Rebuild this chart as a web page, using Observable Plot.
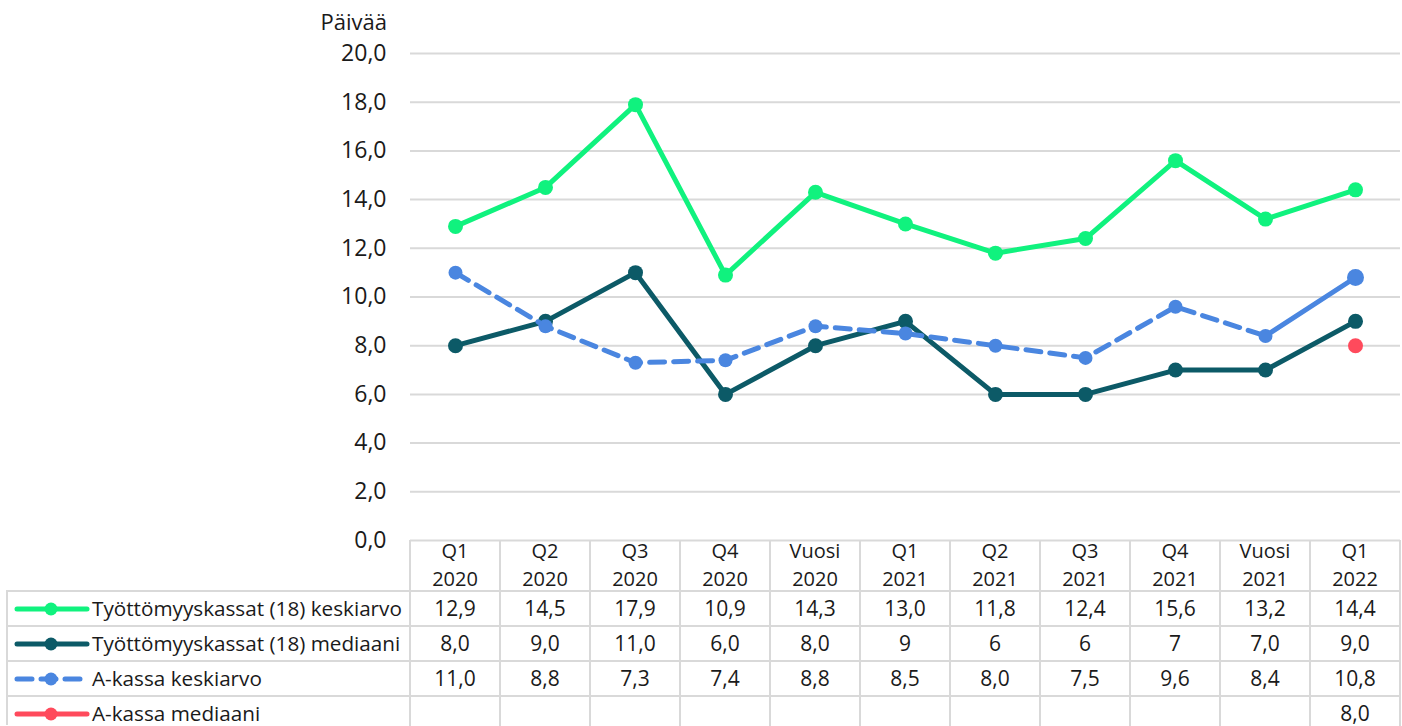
<!DOCTYPE html>
<html><head><meta charset="utf-8">
<script src="https://cdn.jsdelivr.net/npm/d3@7"></script>
<script src="https://cdn.jsdelivr.net/npm/@observablehq/plot@0.6"></script>
<style>
body{margin:0;background:#fff;font-family:"Open Sans","Noto Sans",sans-serif;color:#1a1a1a;}
#wrap{position:relative;width:1402px;height:726px;overflow:hidden;}
.vl{position:absolute;width:2px;background:#d9d9d9;}
.hl{position:absolute;height:2px;background:#d9d9d9;}
.cell{position:absolute;text-align:center;font-size:21px;line-height:24px;height:24px;}
.hcell{position:absolute;text-align:center;font-size:20px;line-height:24px;height:24px;}
.lab{position:absolute;font-size:20.7px;line-height:24px;white-space:nowrap;}
</style></head>
<body><div id="wrap"></div>
<script>
const quarters = ["Q1","Q2","Q3","Q4","Vuosi","Q1","Q2","Q3","Q4","Vuosi","Q1"];
const years = ["2020","2020","2020","2020","2020","2021","2021","2021","2021","2021","2022"];
const seriesNames = ["Työttömyyskassat (18) keskiarvo","Työttömyyskassat (18) mediaani","A-kassa keskiarvo","A-kassa mediaani"];
const seriesColors = ["#10f27e","#0c5a67","#4a86e0","#ff4a5c"];
const kassatKeskiarvo = [12.9,14.5,17.9,10.9,14.3,13.0,11.8,12.4,15.6,13.2,14.4];
const kassatMediaani = [8.0,9.0,11.0,6.0,8.0,9,6,6,7,7.0,9.0];
const aKassaKeskiarvo = [11.0,8.8,7.3,7.4,8.8,8.5,8.0,7.5,9.6,8.4,10.8];
const aKassaMediaani = [null,null,null,null,null,null,null,null,null,null,8.0];
// table text as displayed
const tableText = [
  ["12,9","14,5","17,9","10,9","14,3","13,0","11,8","12,4","15,6","13,2","14,4"],
  ["8,0","9,0","11,0","6,0","8,0","9","6","6","7","7,0","9,0"],
  ["11,0","8,8","7,3","7,4","8,8","8,5","8,0","7,5","9,6","8,4","10,8"],
  ["","","","","","","","","","","8,0"]
];
const yTicks = [0,2,4,6,8,10,12,14,16,18,20];

const cats = quarters.map((q,i)=>q+" "+years[i]);
const allSeries = [kassatKeskiarvo,kassatMediaani,aKassaKeskiarvo,aKassaMediaani];
const rows = [];
allSeries.forEach((arr,s)=>arr.forEach((v,i)=>{ if(v!=null) rows.push({s, cat:cats[i], i, v}); }));
const sel = s => rows.filter(d=>d.s===s);
const fmt = v => d3.format(".1f")(v).replace(".",",");

const chart = Plot.plot({
  width:1402, height:726,
  marginLeft:410, marginRight:2, marginTop:53, marginBottom:186,
  style:{fontFamily:"'Open Sans', 'Noto Sans', sans-serif", fontSize:"21px", color:"#1a1a1a", background:"transparent"},
  x:{type:"band", domain:cats, padding:0, axis:null},
  y:{domain:[0,20], ticks:yTicks, tickFormat:fmt, tickSize:0, tickPadding:24, label:null},
  marks:[
    Plot.gridY(yTicks,{stroke:"#d9d9d9", strokeOpacity:1, strokeWidth:2}),
    Plot.axisY(yTicks,{tickSize:0, tickPadding:24, tickFormat:fmt, fontSize:23, label:null}),
    Plot.text(["Päivää"],{frameAnchor:"top-left", lineAnchor:"middle", dx:-90, dy:-31, textAnchor:"start", fontSize:22}),
    Plot.line(sel(0),{x:"cat", y:"v", stroke:seriesColors[0], strokeWidth:5}),
    Plot.dot(sel(0),{x:"cat", y:"v", fill:seriesColors[0], r:7.5}),
    Plot.line(sel(1),{x:"cat", y:"v", stroke:seriesColors[1], strokeWidth:5}),
    Plot.dot(sel(1),{x:"cat", y:"v", fill:seriesColors[1], r:7.5}),
    Plot.line(sel(2).slice(0,10),{x:"cat", y:"v", stroke:seriesColors[2], strokeWidth:5, strokeDasharray:"15,9"}),
    Plot.line(sel(2).slice(9),{x:"cat", y:"v", stroke:seriesColors[2], strokeWidth:5}),
    Plot.dot(sel(2).slice(0,10),{x:"cat", y:"v", fill:seriesColors[2], r:7}),
    Plot.dot(sel(2).slice(10),{x:"cat", y:"v", fill:seriesColors[2], r:8.5}),
    Plot.dot(sel(3),{x:"cat", y:"v", fill:seriesColors[3], r:7.5})
  ]
});
const wrap = document.getElementById("wrap");
chart.style.position="absolute"; chart.style.left="0"; chart.style.top="0";
wrap.appendChild(chart);

// data table below the plot
const x0 = 410, cw = 90, tTop = 540, hdrBottom = 591, rh = 35;
function add(cls, css, html){ const d=document.createElement("div"); d.className=cls; Object.assign(d.style,css); if(html!=null) d.textContent=html; wrap.appendChild(d); return d; }
for(let i=0;i<=cats.length;i++) add("vl",{left:(x0+i*cw-1)+"px", top:tTop+"px", height:(726-tTop)+"px"});
add("vl",{left:"6px", top:(hdrBottom-1)+"px", height:(726-hdrBottom)+"px"});
for(let r=0;r<4;r++) add("hl",{left:"6px", top:(hdrBottom+r*rh-1)+"px", width:(1401-6)+"px"});
cats.forEach((c,i)=>{
  add("hcell",{left:(x0+i*cw)+"px", width:cw+"px", top:(tTop-1)+"px"}, quarters[i]);
  add("hcell",{left:(x0+i*cw)+"px", width:cw+"px", top:(tTop+27)+"px"}, years[i]);
});
seriesNames.forEach((name,r)=>{
  const ty = hdrBottom + r*rh + 5;
  tableText[r].forEach((t,i)=>{ if(t) add("cell",{left:(x0+i*cw)+"px", width:cw+"px", top:ty+"px"}, t); });
  const dash = r===2 ? ' stroke-dasharray="15,9"' : '';
  const sw = `<svg width="76" height="16" style="position:absolute;left:14px;top:${hdrBottom + r*rh + 10}px"><line x1="3" y1="8" x2="73" y2="8" stroke="${seriesColors[r]}" stroke-width="5" stroke-linecap="round"${dash}/><circle cx="37" cy="8" r="6.5" fill="${seriesColors[r]}"/></svg>`;
  wrap.insertAdjacentHTML("beforeend", sw);
  add("lab",{left:"92px", top:ty+"px"}, name);
});
</script></body></html>
